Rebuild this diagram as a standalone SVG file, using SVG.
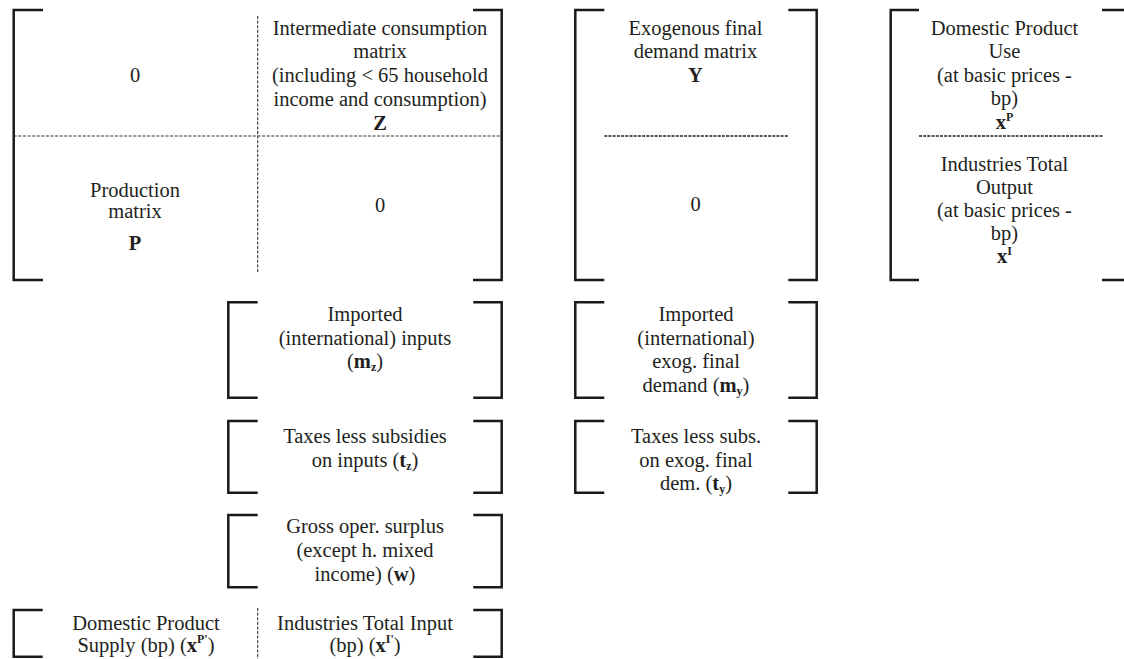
<svg xmlns="http://www.w3.org/2000/svg" width="1124" height="659" viewBox="0 0 1124 659">
<style>
.br{fill:none;stroke:#1a1a1a;stroke-width:2.5;stroke-linecap:butt;stroke-linejoin:miter}
.dl{fill:none;stroke:#333;stroke-width:1.1;stroke-dasharray:3 1.6}
.dl2{fill:none;stroke:#222;stroke-width:1.5;stroke-dasharray:3 1.2}
text{font-family:"Liberation Serif","Times New Roman",serif;font-size:20.5px;fill:#231f20;text-anchor:middle}
.b{font-weight:bold}
.s{font-size:12px;font-weight:bold}
</style>
<rect width="1124" height="659" fill="#fff"/>

<g id="node-main">
<path class="br" d="M43,10 H13.7 V280 H43"/>
<path class="br" d="M473,10 H501.7 V280 H473"/>
<path class="dl" d="M13.7,136 H501.7"/>
<path class="dl" d="M257.7,16 V273"/>
<text x="135" y="82">0</text>
<text x="380" y="35">Intermediate consumption</text>
<text x="380" y="58">matrix</text>
<text x="380" y="82">(including &lt; 65 household</text>
<text x="380" y="106">income and consumption)</text>
<text x="380" y="130" class="b">Z</text>
<text x="135" y="197">Production</text>
<text x="135" y="218">matrix</text>
<text x="135" y="250" class="b">P</text>
<text x="380" y="212">0</text>
</g>

<g id="node-Y">
<path class="br" d="M604.3,10 H575.3 V280 H604.3"/>
<path class="br" d="M788.3,10 H816.7 V280 H788.3"/>
<path class="dl2" d="M604.3,136 H789"/>
<text x="695.5" y="35">Exogenous final</text>
<text x="695.5" y="58">demand matrix</text>
<text x="695.5" y="82" class="b">Y</text>
<text x="695.5" y="211">0</text>
</g>

<g id="node-x">
<path class="br" d="M919,10 H890.7 V280 H919"/>
<path class="br" d="M1102,10 H1130 M1102,280 H1130"/>
<path class="dl2" d="M919,136 H1103"/>
<text x="1004.5" y="35">Domestic Product</text>
<text x="1004.5" y="58">Use</text>
<text x="1004.5" y="82">(at basic prices -</text>
<text x="1004.5" y="105">bp)</text>
<text x="1004.5" y="129"><tspan class="b">x</tspan><tspan class="s" dy="-8">P</tspan></text>
<text x="1004.5" y="170.7">Industries Total</text>
<text x="1004.5" y="194">Output</text>
<text x="1004.5" y="217">(at basic prices -</text>
<text x="1004.5" y="240">bp)</text>
<text x="1004.5" y="263"><tspan class="b">x</tspan><tspan class="s" dy="-8">I</tspan></text>
</g>

<g id="node-mz">
<path class="br" d="M257.7,302.3 H228.3 V397.7 H257.7"/>
<path class="br" d="M473.3,302.3 H501.7 V397.7 H473.3"/>
<text x="365" y="321">Imported</text>
<text x="365" y="344.5">(international) inputs</text>
<text x="365" y="368">(<tspan class="b">m</tspan><tspan class="s" dy="3">z</tspan><tspan dy="-3">)</tspan></text>
</g>

<g id="node-my">
<path class="br" d="M604.3,302.3 H575.3 V397.7 H604.3"/>
<path class="br" d="M788.3,302.3 H816.7 V397.7 H788.3"/>
<text x="696" y="321">Imported</text>
<text x="696" y="344.5">(international)</text>
<text x="696" y="368">exog. final</text>
<text x="696" y="391.5">demand (<tspan class="b">m</tspan><tspan class="s" dy="3">y</tspan><tspan dy="-3">)</tspan></text>
</g>

<g id="node-tz">
<path class="br" d="M257.7,421 H228.3 V492.7 H257.7"/>
<path class="br" d="M473.3,421 H501.7 V492.7 H473.3"/>
<text x="365" y="443">Taxes less subsidies</text>
<text x="365" y="467">on inputs (<tspan class="b">t</tspan><tspan class="s" dy="3">z</tspan><tspan dy="-3">)</tspan></text>
</g>

<g id="node-ty">
<path class="br" d="M604.3,421 H575.3 V492.7 H604.3"/>
<path class="br" d="M788.3,421 H816.7 V492.7 H788.3"/>
<text x="696" y="443">Taxes less subs.</text>
<text x="696" y="467">on exog. final</text>
<text x="696" y="490">dem. (<tspan class="b">t</tspan><tspan class="s" dy="3">y</tspan><tspan dy="-3">)</tspan></text>
</g>

<g id="node-w">
<path class="br" d="M257.7,515 H228.3 V587.3 H257.7"/>
<path class="br" d="M473.3,515 H501.7 V587.3 H473.3"/>
<text x="365" y="533">Gross oper. surplus</text>
<text x="365" y="557">(except h. mixed</text>
<text x="365" y="581">income) (<tspan class="b">w</tspan>)</text>
</g>

<g id="node-totals">
<path class="br" d="M42.7,610 H13.7 V656.7 H42.7"/>
<path class="br" d="M473.3,610 H501.7 V656.7 H473.3"/>
<path class="dl" d="M257.7,608 V659"/>
<text x="146" y="630">Domestic Product</text>
<text x="146" y="652">Supply (bp) (<tspan class="b">x</tspan><tspan class="s" dy="-9">P'</tspan><tspan dy="9">)</tspan></text>
<text x="365" y="630">Industries Total Input</text>
<text x="365" y="652">(bp) (<tspan class="b">x</tspan><tspan class="s" dy="-9">I'</tspan><tspan dy="9">)</tspan></text>
</g>

<g id="connectors"></g>
</svg>
